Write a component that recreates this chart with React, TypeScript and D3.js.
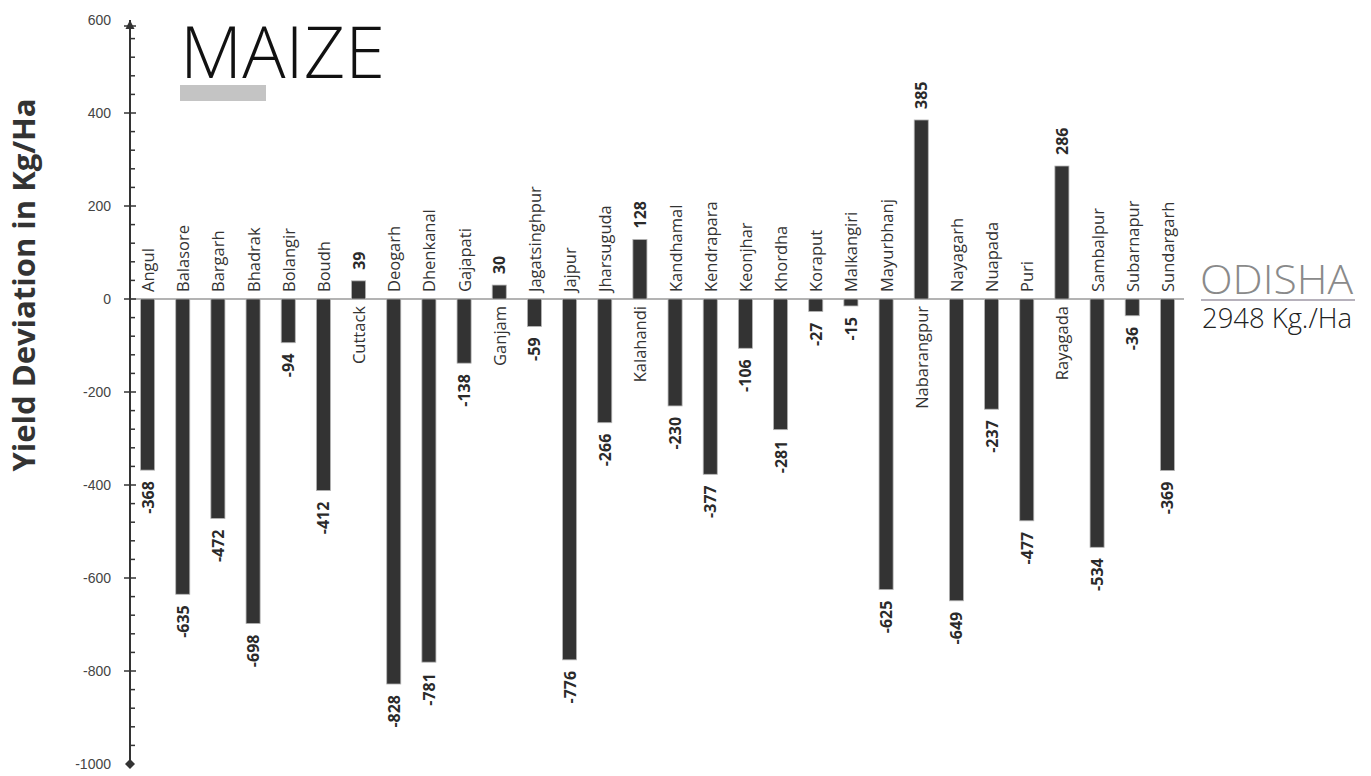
import { useEffect, useRef } from 'react';
import * as d3 from 'd3';

const districts = [
  'Angul', 'Balasore', 'Bargarh', 'Bhadrak', 'Bolangir', 'Boudh', 'Cuttack', 'Deogarh',
  'Dhenkanal', 'Gajapati', 'Ganjam', 'Jagatsinghpur', 'Jajpur', 'Jharsuguda', 'Kalahandi',
  'Kandhamal', 'Kendrapara', 'Keonjhar', 'Khordha', 'Koraput', 'Malkangiri', 'Mayurbhanj',
  'Nabarangpur', 'Nayagarh', 'Nuapada', 'Puri', 'Rayagada', 'Sambalpur', 'Subarnapur', 'Sundargarh',
];

const deviation = [
  -368, -635, -472, -698, -94, -412, 39, -828,
  -781, -138, 30, -59, -776, -266, 128,
  -230, -377, -106, -281, -27, -15, -625,
  385, -649, -237, -477, 286, -534, -36, -369,
];

const majorTicks = [600, 400, 200, 0, -200, -400, -600, -800, -1000];
const minorTicks = d3.range(-1000, 600, 40);

const cropName = 'MAIZE';
const stateName = 'ODISHA';
const stateYield = '2948 Kg./Ha';

const font = '"Open Sans", "DejaVu Sans", sans-serif';

export default function App() {
  const svgRef = useRef<SVGSVGElement>(null);
  const width = 1371;
  const height = 776;

  useEffect(() => {
    if (!svgRef.current) return;
    const svg = d3.select(svgRef.current);
    svg.selectAll('*').remove();

    const axisX = 130;

    const x = d3.scaleBand<string>()
      .domain(districts)
      .range([axisX, 1185])
      .paddingInner(0.6)
      .paddingOuter(0.3);

    const y = d3.scaleLinear()
      .domain([-1000, 600])
      .range([764, 20]);

    // zero line
    svg.append('line')
      .attr('x1', axisX).attr('x2', 1184)
      .attr('y1', y(0)).attr('y2', y(0))
      .attr('stroke', '#9a9a9a')
      .attr('stroke-width', 1.5);

    // bars
    svg.selectAll('.bar')
      .data(deviation)
      .enter()
      .append('rect')
      .attr('class', 'bar')
      .attr('x', (_, i) => x(districts[i])!)
      .attr('width', x.bandwidth())
      .attr('y', d => y(Math.max(0, d)))
      .attr('height', d => Math.abs(y(d) - y(0)))
      .attr('fill', '#333333')
      .attr('stroke', '#b5b5b5')
      .attr('stroke-width', 0.8);

    // district names
    svg.selectAll('.name')
      .data(deviation)
      .enter()
      .append('text')
      .attr('class', 'name')
      .attr('transform', (d, i) => {
        const cx = x(districts[i])! + x.bandwidth() / 2;
        const cy = d < 0 ? y(0) - 7 : y(0) + 7;
        return `translate(${cx},${cy}) rotate(-90)`;
      })
      .attr('text-anchor', d => (d < 0 ? 'start' : 'end'))
      .attr('dominant-baseline', 'central')
      .attr('font-family', font)
      .attr('font-size', 16.5)
      .attr('fill', '#333')
      .text((_, i) => districts[i]);

    // values
    svg.selectAll('.val')
      .data(deviation)
      .enter()
      .append('text')
      .attr('class', 'val')
      .attr('transform', (d, i) => {
        const cx = x(districts[i])! + x.bandwidth() / 2;
        const cy = d < 0 ? y(d) + 11 : y(d) - 11;
        return `translate(${cx},${cy}) rotate(-90)`;
      })
      .attr('text-anchor', d => (d < 0 ? 'end' : 'start'))
      .attr('dominant-baseline', 'central')
      .attr('font-family', font)
      .attr('font-size', 16)
      .attr('font-weight', 700)
      .attr('fill', '#2a2a2a')
      .text(d => String(d));

    // y axis
    const axis = svg.append('g');
    axis.append('line')
      .attr('x1', axisX).attr('x2', axisX)
      .attr('y1', y(600)).attr('y2', y(-1000))
      .attr('stroke', '#333')
      .attr('stroke-width', 2);

    axis.selectAll('.minor')
      .data(minorTicks.filter(t => t % 200 !== 0))
      .enter()
      .append('line')
      .attr('x1', axisX).attr('x2', axisX + 5)
      .attr('y1', d => y(d)).attr('y2', d => y(d))
      .attr('stroke', '#333')
      .attr('stroke-width', 1.5);

    axis.selectAll('.major')
      .data(majorTicks.filter(t => t !== 600 && t !== -1000))
      .enter()
      .append('line')
      .attr('x1', axisX - 6).attr('x2', axisX + 6)
      .attr('y1', d => y(d)).attr('y2', d => y(d))
      .attr('stroke', '#333')
      .attr('stroke-width', 1.5);

    axis.append('line')
      .attr('x1', axisX - 6).attr('x2', axisX + 6)
      .attr('y1', y(600) + 6).attr('y2', y(600) + 6)
      .attr('stroke', '#333')
      .attr('stroke-width', 1.5);

    // arrow at top, diamond at bottom
    const top = y(600);
    axis.append('path')
      .attr('d', `M${axisX},${top} L${axisX - 4.5},${top + 9} L${axisX + 4.5},${top + 9} Z`)
      .attr('fill', '#333');
    const bot = y(-1000);
    axis.append('path')
      .attr('d', `M${axisX},${bot - 5} L${axisX + 5},${bot} L${axisX},${bot + 5} L${axisX - 5},${bot} Z`)
      .attr('fill', '#333');

    axis.selectAll('.tickLabel')
      .data(majorTicks)
      .enter()
      .append('text')
      .attr('x', axisX - 19)
      .attr('y', d => y(d))
      .attr('text-anchor', 'end')
      .attr('dominant-baseline', 'central')
      .attr('font-family', '"Liberation Sans", Arial, sans-serif')
      .attr('font-size', 14)
      .attr('fill', '#444')
      .text(d => String(d));

    // y title
    svg.append('text')
      .attr('transform', `translate(35,${285}) rotate(-90)`)
      .attr('text-anchor', 'middle')
      .attr('font-family', font)
      .attr('font-size', 31)
      .attr('font-weight', 700)
      .attr('fill', '#333')
      .text('Yield Deviation in Kg/Ha');

    // crop title
    svg.append('text')
      .attr('x', 180)
      .attr('y', 78)
      .attr('font-family', font)
      .attr('font-weight', 300)
      .attr('font-size', 72)
      .attr('textLength', 205)
      .attr('lengthAdjust', 'spacingAndGlyphs')
      .attr('fill', '#111')
      .text(cropName);

    svg.append('rect')
      .attr('x', 180).attr('y', 85)
      .attr('width', 86).attr('height', 16)
      .attr('fill', '#c4c4c4');

    // state average
    svg.append('text')
      .attr('x', 1200)
      .attr('y', 294)
      .attr('font-family', font)
      .attr('font-weight', 300)
      .attr('font-size', 40)
      .attr('textLength', 153)
      .attr('lengthAdjust', 'spacingAndGlyphs')
      .attr('fill', '#8a8a8a')
      .text(stateName);

    svg.append('line')
      .attr('x1', 1201).attr('x2', 1355)
      .attr('y1', y(0) + 1).attr('y2', y(0) + 1)
      .attr('stroke', '#6e6478')
      .attr('stroke-width', 1.2);

    svg.append('text')
      .attr('x', 1202)
      .attr('y', 328)
      .attr('font-family', font)
      .attr('font-weight', 300)
      .attr('font-size', 27)
      .attr('textLength', 150)
      .attr('lengthAdjust', 'spacingAndGlyphs')
      .attr('fill', '#222')
      .text(stateYield);
  }, []);

  return (
    <svg
      ref={svgRef}
      width={width}
      height={height}
      style={{ position: 'absolute', left: 0, top: 0, background: '#fff' }}
    />
  );
}
